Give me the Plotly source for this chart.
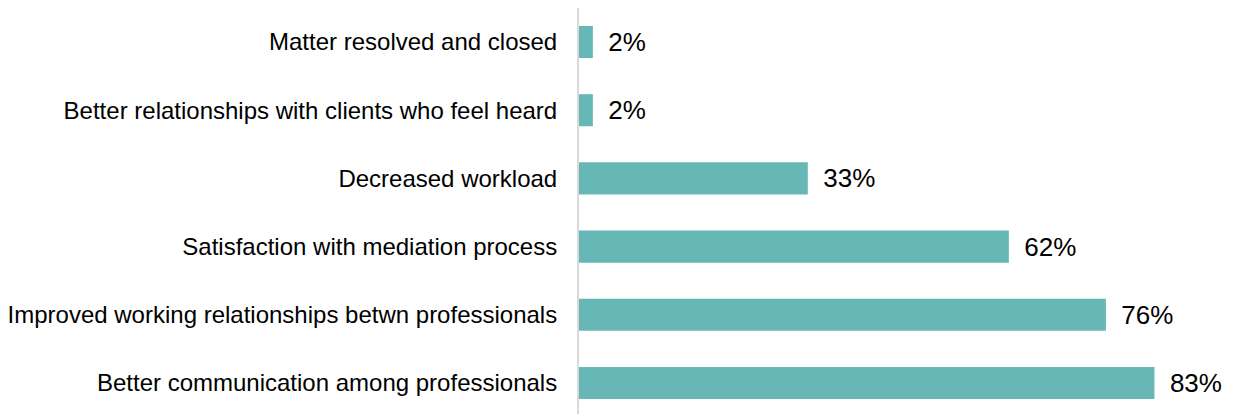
import plotly.graph_objects as go

categories = [
    "Better communication among professionals",
    "Improved working relationships betwn professionals",
    "Satisfaction with mediation process",
    "Decreased workload",
    "Better relationships with clients who feel heard",
    "Matter resolved and closed",
]
values = [83, 76, 62, 33, 2, 2]
value_labels = [f" \u2009{v}%" for v in values]

fig = go.Figure(go.Bar(
    x=values,
    y=categories,
    orientation="h",
    marker=dict(color="#68B7B7", line=dict(width=0)),
    width=0.47,
    text=value_labels,
    textposition="outside",
    textfont=dict(family="Liberation Sans, Arial, sans-serif", size=26, color="#000000"),
    cliponaxis=False,
))

fig.update_layout(
    width=1237, height=414,
    margin=dict(l=566, r=42, t=0, b=0),
    paper_bgcolor="white", plot_bgcolor="white",
    showlegend=False,
    font=dict(family="Liberation Sans, Arial, sans-serif", size=24, color="#000000"),
    xaxis=dict(range=[0, 90], visible=False, showgrid=False, zeroline=False),
    yaxis=dict(
        type="category",
        range=[-0.5718, 5.4985],
        showgrid=False, zeroline=False,
        showline=True, linecolor="#d9d9d9", linewidth=2,
        ticks="", ticklabelstandoff=15,
        tickfont=dict(size=24, color="#000000"),
    ),
)

fig.write_html("out.html")
